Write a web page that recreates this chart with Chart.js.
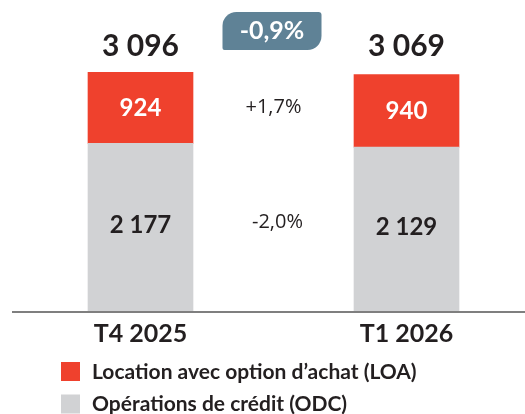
<!DOCTYPE html>
<html lang="fr">
<head>
<meta charset="UTF-8">
<title>LOA / ODC</title>
<style>
  html, body { margin: 0; padding: 0; background: #fff; }
  #wrap { width: 525px; height: 414px; }
</style>
</head>
<body>
<div id="wrap"><canvas id="chart" width="525" height="414"></canvas></div>
<script src="https://cdn.jsdelivr.net/npm/chart.js"></script>
<script>
// data
const periods = ['T4 2025', 'T1 2026'];
const odcValues = [2177, 2129];
const loaValues = [924, 940];
const totals = [3096, 3069];
const changes = ['+1,7%', '-2,0%'];   // LOA, ODC
const totalChange = '-0,9%';

const RED = '#ef412d';
const GREY = '#d1d2d4';
const DARK = '#231f20';

function fmt(n) {
    return String(n).replace(/\B(?=(\d{3})+(?!\d))/g, ' ');
}

const labelsPlugin = {
    id: 'labels',
    afterDatasetsDraw(chart) {
        const ctx = chart.ctx;
        const area = chart.chartArea;
        const y = chart.scales.y;
        const odcBars = chart.getDatasetMeta(0).data;
        const loaBars = chart.getDatasetMeta(1).data;

        // axis line
        ctx.save();
        ctx.strokeStyle = '#7f7f7f';
        ctx.lineWidth = 2;
        ctx.beginPath();
        ctx.moveTo(12, area.bottom + 1);
        ctx.lineTo(525, area.bottom + 1);
        ctx.stroke();

        ctx.textAlign = 'center';
        ctx.textBaseline = 'middle';

        // values inside the segments
        ctx.font = 'bold 24px Lato';
        loaBars.forEach((b, i) => {
            ctx.fillStyle = '#fff';
            ctx.fillText(fmt(loaValues[i]), b.x, (b.y + b.base) / 2);
        });
        odcBars.forEach((b, i) => {
            ctx.fillStyle = DARK;
            ctx.fillText(fmt(odcValues[i]), b.x, (b.y + b.base) / 2 - 2);
        });

        // totals
        const topY = y.getPixelForValue(Math.max(...totals)) - 26;
        ctx.font = 'bold 30px Lato';
        ctx.fillStyle = DARK;
        loaBars.forEach((b, i) => ctx.fillText(fmt(totals[i]), b.x, topY));

        // changes between the bars
        const midX = (loaBars[0].x + loaBars[1].x) / 2;
        ctx.font = '20px "Open Sans"';
        const loaMid = (loaBars[0].y + loaBars[0].base + loaBars[1].y + loaBars[1].base) / 4;
        const odcMid = (odcBars[0].y + odcBars[0].base + odcBars[1].y + odcBars[1].base) / 4;
        ctx.fillText(changes[0], midX, loaMid - 2);
        ctx.fillText(changes[1], midX + 4, odcMid - 6);

        // badge with total change
        const bw = 99, bh = 38, bx = midX - 51, by = 12;
        ctx.fillStyle = '#5f8296';
        ctx.beginPath();
        ctx.roundRect(bx, by, bw, bh, [14, 3, 14, 2]);
        ctx.fill();
        ctx.fillStyle = '#fff';
        ctx.font = 'bold 25px Lato';
        ctx.fillText(totalChange, bx + bw / 2, by + bh / 2);

        // legend
        ctx.textAlign = 'left';
        ctx.font = 'bold 21px Lato';
        const items = [...chart.data.datasets].reverse();
        items.forEach((ds, i) => {
            const ly = 362 + i * 32.5;
            ctx.fillStyle = ds.backgroundColor;
            ctx.fillRect(61, ly, 19, 19);
            ctx.fillStyle = DARK;
            ctx.fillText(ds.label, 92, ly + 10);
        });
        ctx.restore();
    }
};

const ctx = document.getElementById('chart').getContext('2d');
new Chart(ctx, {
    type: 'bar',
    data: {
        labels: periods,
        datasets: [{
            label: 'Opérations de crédit (ODC)',
            data: odcValues,
            backgroundColor: GREY,
            barThickness: 105,
            clip: false
        }, {
            label: 'Location avec option d\u2019achat (LOA)',
            data: loaValues,
            backgroundColor: RED,
            barThickness: 105,
            clip: false
        }]
    },
    options: {
        responsive: false,
        animation: false,
        layout: { padding: { left: 140.5, right: 118.5, top: 3, bottom: 57 } },
        plugins: {
            legend: { display: false },
            tooltip: { enabled: false }
        },
        scales: {
            x: {
                stacked: true,
                offset: false,
                grid: { display: false, drawTicks: false },
                border: { display: false },
                ticks: {
                    color: DARK,
                    padding: 8,
                    font: { family: 'Lato', size: 25, weight: 'bold' }
                }
            },
            y: { stacked: true, display: false, min: 0, max: 4000 }
        }
    },
    plugins: [labelsPlugin]
});
</script>
</body>
</html>
